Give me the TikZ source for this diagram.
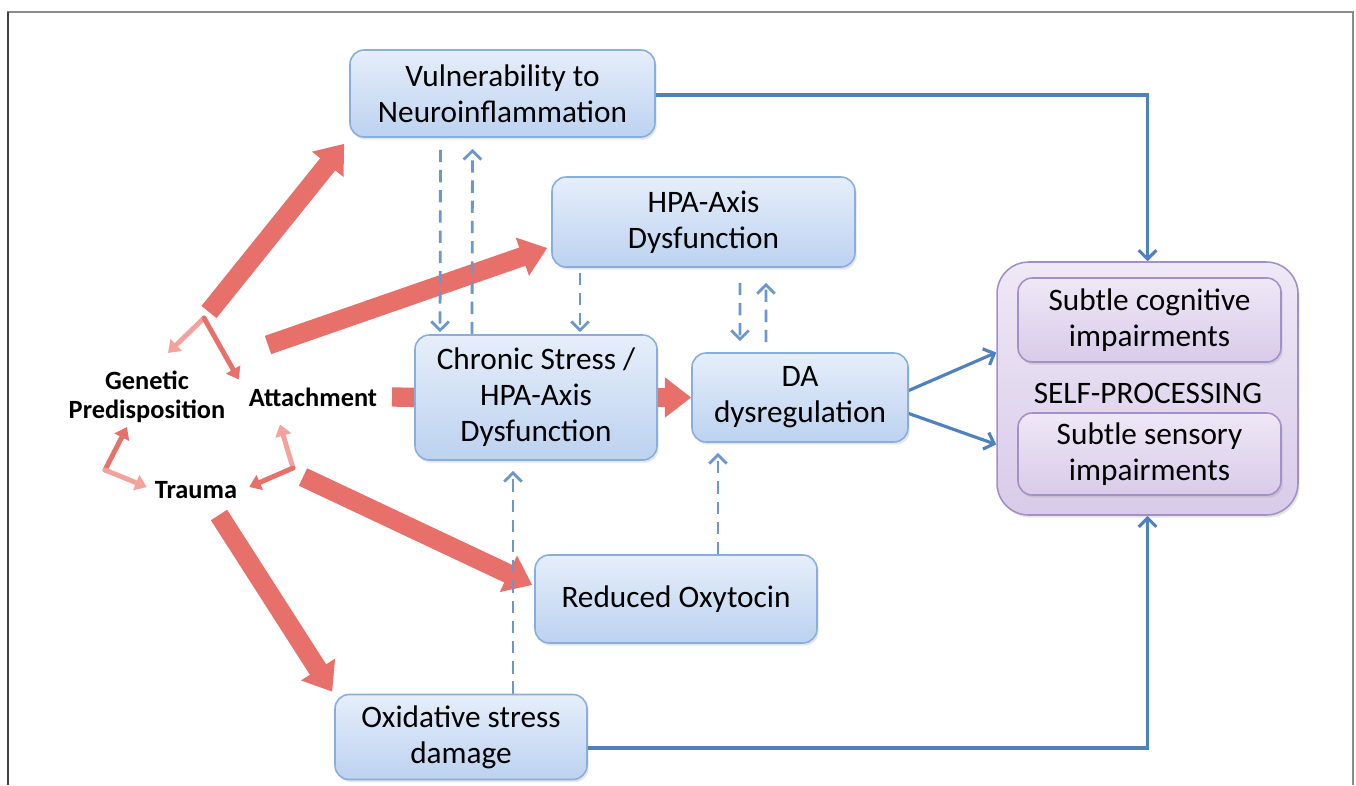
\documentclass[tikz,border=0pt]{standalone}
\usepackage{fontspec}
\setmainfont{Carlito}
\usetikzlibrary{arrows.meta, calc, backgrounds, shadows}

\definecolor{boxtop}{HTML}{E6EEFA}
\definecolor{boxbot}{HTML}{BCD2F0}
\definecolor{boxline}{HTML}{8AAEDC}
\definecolor{lilactop}{HTML}{EFE8F6}
\definecolor{lilacbot}{HTML}{D8CBE9}
\definecolor{lilacline}{HTML}{A290C6}
\definecolor{linkblue}{HTML}{4F81BD}
\definecolor{dashblue}{HTML}{6B97CC}
\definecolor{salmon}{HTML}{E8706A}
\definecolor{salmonlight}{HTML}{F3A29E}

\begin{document}
\begin{tikzpicture}[
        x=0.02cm, y=-0.02cm,
        box/.style={draw=boxline, line width=0.9pt, rounded corners=8pt, top color=boxtop, bottom color=boxbot,
            align=center, font=\fontsize{17.8}{20.5}\selectfont,
            drop shadow={shadow xshift=1pt, shadow yshift=-1.5pt, opacity=0.2}},
        inbox/.style={box, draw=lilacline, top color=lilactop, bottom color=lilacbot},
        group/.style={draw=lilacline, line width=0.9pt, rounded corners=18pt, top color=lilactop, bottom color=lilacbot,
            drop shadow={shadow xshift=1pt, shadow yshift=-1.5pt, opacity=0.2}},
        lbl/.style={align=center, font=\bfseries\fontsize{15}{16.5}\selectfont},
        fat/.style={draw=salmon, line width=11pt, -{Triangle[length=15pt,width=22pt]}},
        fork/.style={line width=2.8pt, line cap=round, -{Triangle[length=6.5pt,width=9pt]}},
        link/.style={draw=linkblue, line width=1.8pt, -{Straight Barb[length=5pt,width=10pt]}},
        dasharr/.style={draw=dashblue, line width=1.6pt, dash pattern=on 7pt off 4.5pt, -{Straight Barb[length=5pt,width=10pt]}}
    ]
        \useasboundingbox (0,0) rectangle (1356,785);
        \draw[black!45, line width=0.7pt] (8,785) -- (8,12) -- (1353,12) -- (1353,785);
        \draw[black!75, line width=1.2pt] (8,12) -- (8,785);

        \node[box, minimum width=6.1cm, minimum height=1.74cm] (vuln) at (502.5,93.5) {Vulnerability to\\Neuroinflammation};
        \node[box, minimum width=6.06cm, minimum height=1.8cm] (hpa) at (703.5,222) {HPA-Axis\\Dysfunction};
        \node[box, minimum width=4.84cm, minimum height=2.5cm] (chronic) at (536,397.5) {Chronic Stress /\\HPA-Axis\\Dysfunction};
        \node[box, minimum width=4.32cm, minimum height=1.78cm] (da) at (800,397.5) {DA\\dysregulation};
        \node[box, minimum width=5.64cm, minimum height=1.76cm] (oxy) at (676,599) {Reduced Oxytocin};
        \node[box, minimum width=5.04cm, minimum height=1.7cm] (oxid) at (461,737) {Oxidative stress\\damage};

        \node[group, minimum width=6.02cm, minimum height=5.06cm] (self) at (1147.5,388.5) {};
        \node[inbox, minimum width=5.26cm, minimum height=1.68cm] (cog) at (1149.5,320) {Subtle cognitive\\impairments};
        \node[inbox, minimum width=5.26cm, minimum height=1.64cm] (sens) at (1149.5,454) {Subtle sensory\\impairments};
        \node[font=\fontsize{17.8}{20.5}\selectfont] (selfp) at (1148,393) {SELF-PROCESSING};

        \node[lbl] (gen) at (147,397) {Genetic\\Predisposition};
        \node[lbl] (att) at (313,397) {Attachment};
        \node[lbl] (trauma) at (196,490) {Trauma};

        \coordinate (forkA) at (204,318);
        \coordinate (forkL) at (105,470);
        \coordinate (forkR) at (293,468);

        \begin{scope}[on background layer]
            \draw[fat] ($(forkA)+(5,-6)$) -- ($(vuln.south west)+(-5,6)$);
            \draw[fat] ($(att)+(-45,-52)$) -- ($(hpa.west)+(-4,26)$);
            \draw[salmon, line width=11pt] ($(att)+(79,0)$) -- ($(chronic.west)+(10,0)$);
            \draw[fat] (chronic.east) -- (da.west);
            \draw[fat] ($(forkR)+(10,9)$) -- ($(oxy.west)+(-2,-14)$);
            \draw[fat] ($(trauma)+(23,25)$) -- ($(oxid.north west)+(-2,-2)$);

            \draw[fork, salmonlight] (forkA) -- ($(gen.north)+(21,-12)$);
            \draw[fork, salmon] (forkA) -- ($(att.north west)+(-4,-2)$);
            \draw[fork, salmon] (forkL) -- ($(gen.south)+(-20,-2)$);
            \draw[fork, salmonlight] (forkL) -- ($(trauma.west)+(-2,-3)$);
            \draw[fork, salmonlight] (forkR) -- ($(att.south)+(-33,12)$);
            \draw[fork, salmon] (forkR) -- ($(trauma.east)+(6,-3)$);

            \draw[dasharr] ($(vuln.south)+(-62,12)$) -- ($(chronic.north)+(-96,-2)$);
            \draw[dasharr] ($(chronic.north)+(-64,0)$) -- ($(vuln.south)+(-30,11)$);
            \draw[dasharr] ($(hpa.south)+(-123.5,5)$) -- ($(chronic.north)+(44,-2)$);
            \draw[dasharr] ($(hpa.south)+(36.5,15)$) -- ($(da.north)+(-60,-11)$);
            \draw[dasharr] ($(da.north)+(-34,-10)$) -- ($(hpa.south)+(62.5,15)$);
            \draw[dasharr] ($(oxy.north)+(42,0)$) -- ($(da.south)+(-82,10)$);
            \draw[dasharr] ($(oxid.north)+(52,0)$) -- ($(chronic.south)+(-23,10)$);

            \draw[link] ($(vuln.east)+(0,1.5)$) -| (self.north);
            \draw[link] ($(oxid.east)+(0,11)$) -| (self.south);
            \draw[link] ($(da.east)+(0,-7)$) -- ($(self.west)+(0,-36)$);
            \draw[link] ($(da.east)+(0,16)$) -- ($(self.west)+(0,56)$);
        \end{scope}
    \end{tikzpicture}
\end{document}
